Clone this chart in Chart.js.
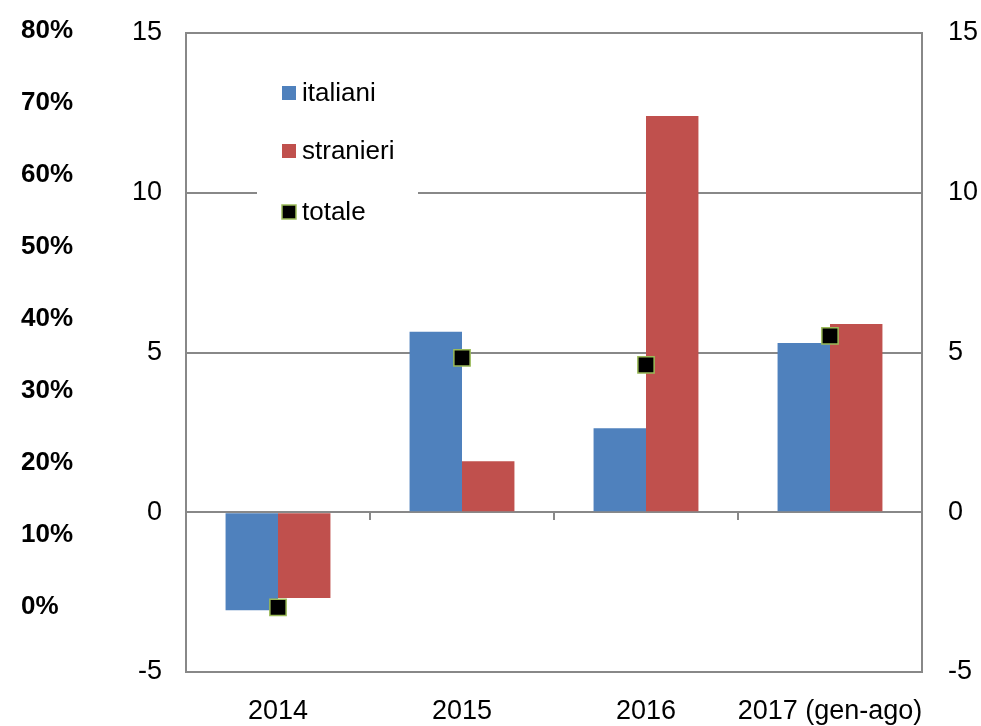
<!DOCTYPE html>
<html>
<head>
<meta charset="utf-8">
<script src="https://cdn.jsdelivr.net/npm/chart.js@4.4.1/dist/chart.umd.min.js"></script>
<style>
  html, body { margin: 0; padding: 0; background: #ffffff; }
  #wrap { width: 981px; height: 726px; position: relative; }
</style>
</head>
<body>
<div id="wrap"><canvas id="c" width="981" height="726"></canvas></div>
<script>
// ---- data ----
const categories = ['2014', '2015', '2016', '2017 (gen-ago)'];
const italiani = [-3.07, 5.65, 2.63, 5.30];
const stranieri = [-2.68, 1.60, 12.40, 5.89];
const totale = [-2.98, 4.83, 4.61, 5.52];
const yTicks = [-5, 0, 5, 10, 15];
const pctLabels = ['80%', '70%', '60%', '50%', '40%', '30%', '20%', '10%', '0%'];

// ---- styles ----
const FONT = '"Liberation Sans", Arial, sans-serif';
const GRID = '#888888';
const BLUE = '#4F81BD';
const RED = '#C0504D';
const GREEN = '#9BBB59';

const pctPlugin = {
  id: 'pctLabels',
  afterDraw(chart) {
    const ctx = chart.ctx;
    ctx.save();
    ctx.font = 'bold 26px ' + FONT;
    ctx.fillStyle = '#000';
    ctx.textAlign = 'left';
    ctx.textBaseline = 'middle';
    const top = 31, step = 72;
    pctLabels.forEach((t, i) => ctx.fillText(t, 21, top + i * step));
    ctx.restore();
  }
};

const legendPlugin = {
  id: 'boxLegend',
  afterDatasetsDraw(chart) {
    const ctx = chart.ctx;
    const ca = chart.chartArea;
    ctx.save();
    const bx = ca.left + 71, by = ca.top + 33, bw = 161, bh = 175;
    ctx.fillStyle = '#fff';
    ctx.fillRect(bx, by, bw, bh);
    ctx.font = '26px ' + FONT;
    ctx.textAlign = 'left';
    ctx.textBaseline = 'middle';
    const rows = [by + 27, by + 85, by + 146];
    chart.data.datasets.forEach((ds, i) => {
      const y = rows[i];
      const sx = bx + 25, s = 14;
      ctx.fillStyle = ds.legendFill;
      ctx.fillRect(sx, y - s / 2, s, s);
      if (ds.legendStroke) {
        ctx.strokeStyle = ds.legendStroke;
        ctx.lineWidth = 1.5;
        ctx.strokeRect(sx, y - s / 2, s, s);
      }
      ctx.fillStyle = '#000';
      ctx.fillText(ds.label, sx + s + 6, y + 1);
    });
    ctx.restore();
  }
};

function noPadY(s) { s.paddingTop = 0; s.paddingBottom = 0; }

new Chart(document.getElementById('c'), {
  type: 'bar',
  data: {
    labels: categories,
    datasets: [
      { label: 'italiani', data: italiani, backgroundColor: BLUE, legendFill: BLUE,
        categoryPercentage: 0.57, barPercentage: 1.0, order: 2 },
      { label: 'stranieri', data: stranieri, backgroundColor: RED, legendFill: RED,
        categoryPercentage: 0.57, barPercentage: 1.0, order: 2 },
      { label: 'totale', type: 'line', data: totale, showLine: false,
        pointStyle: 'rect', pointRadius: 11.5, pointHoverRadius: 11.5,
        pointBackgroundColor: '#000', pointBorderColor: GREEN, pointBorderWidth: 1.5,
        backgroundColor: '#000', borderColor: GREEN, legendFill: '#000', legendStroke: GREEN,
        order: 1 }
    ]
  },
  options: {
    responsive: false,
    animation: false,
    events: [],
    layout: { padding: { top: 33, left: 0, right: 0, bottom: 0 } },
    plugins: {
      legend: { display: false },
      tooltip: { enabled: false }
    },
    scales: {
      x: {
        position: 'bottom',
        grid: { display: false },
        border: { display: true, color: GRID, width: 2 },
        ticks: { color: '#000', font: { family: FONT, size: 27 }, padding: 15, maxRotation: 0, autoSkip: false },
        afterFit(s) { s.height = 54; s.paddingLeft = 0; s.paddingRight = 0; }
      },
      x2: {
        type: 'category',
        position: { y: 0 },
        offset: true,
        grid: { offset: true, drawOnChartArea: false, drawTicks: true, tickLength: 8, color: GRID, lineWidth: 2 },
        border: { display: false },
        ticks: { display: false, autoSkip: false }
      },
      y: {
        position: 'left',
        min: -5, max: 15,
        afterBuildTicks(s) { s.ticks = yTicks.map(v => ({ value: v })); },
        grid: { color: GRID, lineWidth: 2, drawTicks: false },
        border: { display: true, color: GRID, width: 2 },
        ticks: { color: '#000', font: { family: FONT, size: 27 }, padding: 24 },
        afterFit(s) { s.width = 186; noPadY(s); }
      },
      y2: {
        position: 'right',
        min: -5, max: 15,
        afterBuildTicks(s) { s.ticks = yTicks.map(v => ({ value: v })); },
        grid: { display: false, drawTicks: false },
        border: { display: true, color: GRID, width: 2 },
        ticks: { color: '#000', font: { family: FONT, size: 27 }, padding: 26 },
        afterFit(s) { s.width = 59; noPadY(s); }
      }
    }
  },
  plugins: [pctPlugin, legendPlugin]
});
</script>
</body>
</html>
